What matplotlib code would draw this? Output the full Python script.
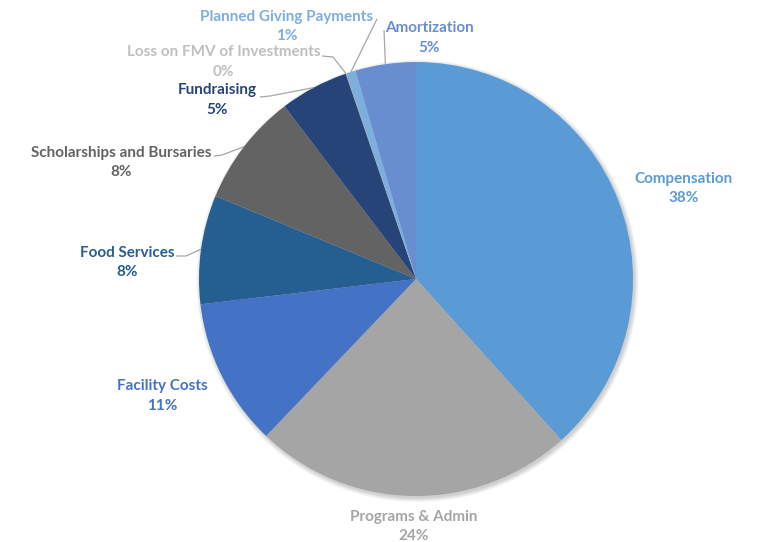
import numpy as np
import matplotlib
matplotlib.use("Agg")
import matplotlib.pyplot as plt
from matplotlib.patches import Circle

# ---- data ----
categories = ["Compensation", "Programs & Admin", "Facility Costs", "Food Services",
              "Scholarships and Bursaries", "Fundraising", "Loss on FMV of Investments",
              "Planned Giving Payments", "Amortization"]
values = [38.3, 23.8, 11.0, 8.1, 8.4, 5.1, 0.05, 0.7, 4.5]
pct_labels = ["38%", "24%", "11%", "8%", "8%", "5%", "0%", "1%", "5%"]

# ---- style ----
colors = ["#5B9BD5", "#A5A5A5", "#4472C4", "#255E91", "#636363", "#264478",
          "#9E9E9E", "#7CAFDD", "#698ED0"]
label_colors = ["#5B9BD5", "#A5A5A5", "#4472C4", "#255E91", "#636363", "#264478",
                "#BFBFBF", "#7CAFDD", "#698ED0"]

W, H = 758, 542
fig = plt.figure(figsize=(W / 100, H / 100), dpi=100)
ax = fig.add_axes([0, 0, 1, 1])

def fy(y):
    return H - y

cx, cy, R = 416, fy(279), 217

# soft shadow
for i in range(8):
    ax.add_patch(Circle((cx + 1.5, cy - 2.0), R + 0.6 * i, color="black",
                        alpha=0.025, lw=0, zorder=0))

wedges, _ = ax.pie(values, colors=colors, startangle=90, counterclock=False,
                   center=(cx, cy), radius=R, wedgeprops=dict(linewidth=0))
for w in wedges:
    w.set_zorder(1)

ax.set_xlim(0, W)
ax.set_ylim(0, H)
ax.set_aspect("equal")
ax.axis("off")

# label layout (pixel positions from top-left): centre x, first-line y
label_pos = [(683.5, 179), (413.5, 517), (162.5, 386), (127, 253), (121, 153),
             (217.5, 90), (223.5, 52), (286.5, 17), (429.5, 28)]
# leader lines: list of points from label side, ending at wedge rim
leaders = [None, None, None,
           [(176, 256), (186, 256)],
           [(214, 156), (222, 155)],
           [(260, 97), (270, 96)],
           [(322, 56), (333, 57)],
           [(377, 19)],
           [(384, 30)]]

FS = 11
for i, w in enumerate(wedges):
    x, y = label_pos[i]
    ax.text(x, fy(y), categories[i], ha="center", va="center", color=label_colors[i],
            fontsize=FS, fontweight="bold", family="Lato", zorder=5)
    ax.text(x, fy(y + 19.5), pct_labels[i], ha="center", va="center",
            color=label_colors[i], fontsize=FS, fontweight="bold", family="Lato",
            zorder=5)
    if leaders[i] is not None:
        ang = np.deg2rad((w.theta1 + w.theta2) / 2)
        tx, ty = cx + R * np.cos(ang), cy + R * np.sin(ang)
        pts = [(px, fy(py)) for px, py in leaders[i]] + [(tx, ty)]
        xs, ys = zip(*pts)
        ax.plot(xs, ys, color="#A6A6A6", lw=0.9, zorder=4, solid_capstyle="butt")

fig.savefig("out.png", dpi=100)
